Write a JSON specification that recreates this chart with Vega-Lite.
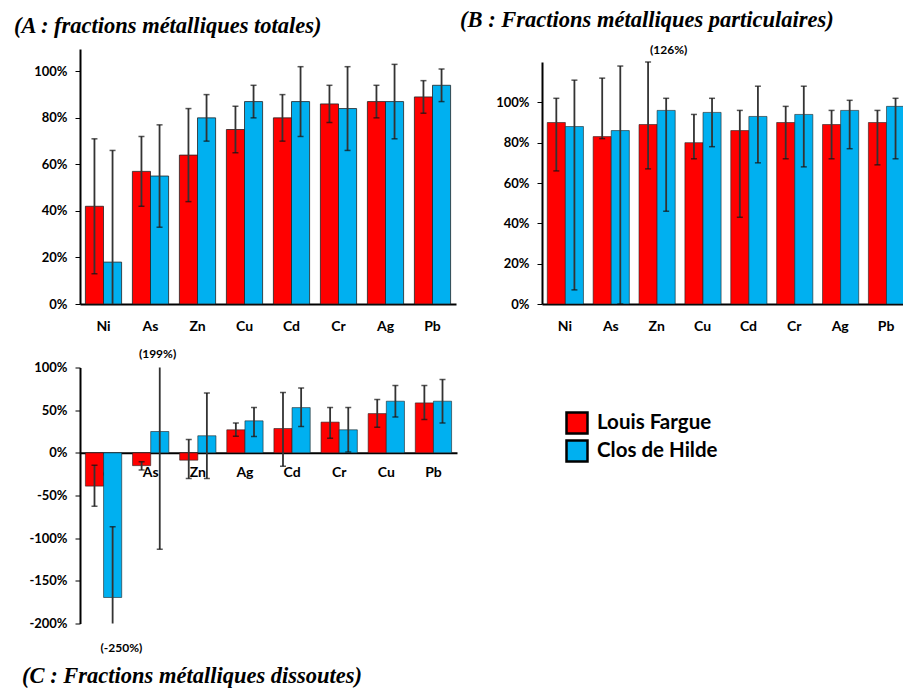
{
  "$schema": "https://vega.github.io/schema/vega-lite/v6.json",
  "background": "white",
  "padding": {"left": 14, "top": 9, "right": 0, "bottom": 0},
  "config": {
    "view": {"stroke": null},
    "axis": {"labelFont": "Lato", "labelFontWeight": "bold", "labelColor": "#000", "domainColor": "#000", "domainWidth": 2, "tickColor": "#000", "grid": false, "title": null},
    "title": {"font": "Liberation Serif", "fontStyle": "italic", "fontWeight": "bold", "fontSize": 22.5, "anchor": "start", "frame": "group", "color": "#000"}
  },
  "datasets": {
    "A": [
      {"el": "Ni", "site": "Louis Fargue", "v": 0.42, "lo": 0.13, "hi": 0.71},
      {"el": "Ni", "site": "Clos de Hilde", "v": 0.18, "lo": -0.29, "hi": 0.66},
      {"el": "As", "site": "Louis Fargue", "v": 0.57, "lo": 0.42, "hi": 0.72},
      {"el": "As", "site": "Clos de Hilde", "v": 0.55, "lo": 0.33, "hi": 0.77},
      {"el": "Zn", "site": "Louis Fargue", "v": 0.64, "lo": 0.44, "hi": 0.84},
      {"el": "Zn", "site": "Clos de Hilde", "v": 0.80, "lo": 0.70, "hi": 0.90},
      {"el": "Cu", "site": "Louis Fargue", "v": 0.75, "lo": 0.65, "hi": 0.85},
      {"el": "Cu", "site": "Clos de Hilde", "v": 0.87, "lo": 0.80, "hi": 0.94},
      {"el": "Cd", "site": "Louis Fargue", "v": 0.80, "lo": 0.70, "hi": 0.90},
      {"el": "Cd", "site": "Clos de Hilde", "v": 0.87, "lo": 0.72, "hi": 1.02},
      {"el": "Cr", "site": "Louis Fargue", "v": 0.86, "lo": 0.78, "hi": 0.94},
      {"el": "Cr", "site": "Clos de Hilde", "v": 0.84, "lo": 0.66, "hi": 1.02},
      {"el": "Ag", "site": "Louis Fargue", "v": 0.87, "lo": 0.80, "hi": 0.94},
      {"el": "Ag", "site": "Clos de Hilde", "v": 0.87, "lo": 0.71, "hi": 1.03},
      {"el": "Pb", "site": "Louis Fargue", "v": 0.89, "lo": 0.82, "hi": 0.96},
      {"el": "Pb", "site": "Clos de Hilde", "v": 0.94, "lo": 0.87, "hi": 1.01}
    ],
    "B": [
      {"el": "Ni", "site": "Louis Fargue", "v": 0.90, "lo": 0.66, "hi": 1.02},
      {"el": "Ni", "site": "Clos de Hilde", "v": 0.88, "lo": 0.07, "hi": 1.11},
      {"el": "As", "site": "Louis Fargue", "v": 0.83, "lo": 0.82, "hi": 1.12},
      {"el": "As", "site": "Clos de Hilde", "v": 0.86, "lo": 0.0, "hi": 1.18},
      {"el": "Zn", "site": "Louis Fargue", "v": 0.89, "lo": 0.67, "hi": 1.2},
      {"el": "Zn", "site": "Clos de Hilde", "v": 0.96, "lo": 0.46, "hi": 1.02},
      {"el": "Cu", "site": "Louis Fargue", "v": 0.80, "lo": 0.72, "hi": 0.94},
      {"el": "Cu", "site": "Clos de Hilde", "v": 0.95, "lo": 0.78, "hi": 1.02},
      {"el": "Cd", "site": "Louis Fargue", "v": 0.86, "lo": 0.43, "hi": 0.96},
      {"el": "Cd", "site": "Clos de Hilde", "v": 0.93, "lo": 0.70, "hi": 1.08},
      {"el": "Cr", "site": "Louis Fargue", "v": 0.90, "lo": 0.72, "hi": 0.98},
      {"el": "Cr", "site": "Clos de Hilde", "v": 0.94, "lo": 0.68, "hi": 1.08},
      {"el": "Ag", "site": "Louis Fargue", "v": 0.89, "lo": 0.72, "hi": 0.96},
      {"el": "Ag", "site": "Clos de Hilde", "v": 0.96, "lo": 0.77, "hi": 1.01},
      {"el": "Pb", "site": "Louis Fargue", "v": 0.90, "lo": 0.69, "hi": 0.96},
      {"el": "Pb", "site": "Clos de Hilde", "v": 0.98, "lo": 0.72, "hi": 1.02}
    ],
    "C": [
      {"el": "Ni", "site": "Louis Fargue", "v": -0.39, "lo": -0.625, "hi": -0.145},
      {"el": "Ni", "site": "Clos de Hilde", "v": -1.695, "lo": -2.5, "hi": -0.867},
      {"el": "As", "site": "Louis Fargue", "v": -0.15, "lo": -0.20, "hi": -0.105},
      {"el": "As", "site": "Clos de Hilde", "v": 0.25, "lo": -1.13, "hi": 1.99},
      {"el": "Zn", "site": "Louis Fargue", "v": -0.086, "lo": -0.30, "hi": 0.156},
      {"el": "Zn", "site": "Clos de Hilde", "v": 0.20, "lo": -0.30, "hi": 0.70},
      {"el": "Ag", "site": "Louis Fargue", "v": 0.27, "lo": 0.195, "hi": 0.35},
      {"el": "Ag", "site": "Clos de Hilde", "v": 0.375, "lo": 0.19, "hi": 0.53},
      {"el": "Cd", "site": "Louis Fargue", "v": 0.285, "lo": -0.156, "hi": 0.707},
      {"el": "Cd", "site": "Clos de Hilde", "v": 0.53, "lo": 0.31, "hi": 0.76},
      {"el": "Cr", "site": "Louis Fargue", "v": 0.36, "lo": 0.17, "hi": 0.53},
      {"el": "Cr", "site": "Clos de Hilde", "v": 0.27, "lo": 0.01, "hi": 0.53},
      {"el": "Cu", "site": "Louis Fargue", "v": 0.46, "lo": 0.30, "hi": 0.625},
      {"el": "Cu", "site": "Clos de Hilde", "v": 0.605, "lo": 0.42, "hi": 0.79},
      {"el": "Pb", "site": "Louis Fargue", "v": 0.585, "lo": 0.39, "hi": 0.79},
      {"el": "Pb", "site": "Clos de Hilde", "v": 0.605, "lo": 0.35, "hi": 0.86}
    ]
  },
  "resolve": {"scale": {"color": "independent"}, "legend": {"color": "independent"}},
  "spacing": 14.5,
  "vconcat": [
    {
      "resolve": {"scale": {"color": "independent"}, "legend": {"color": "independent"}},
      "spacing": 4,
      "hconcat": [
        {
          "width": 376, "height": 255,
          "title": {"text": "(A : fractions métalliques totales)", "dx": -66, "offset": 12},
          "data": {"name": "A"},
          "encoding": {
            "x": {"field": "el", "type": "nominal", "scale": {"domain": ["Ni","As","Zn","Cu","Cd","Cr","Ag","Pb"], "paddingInner": 0.23, "paddingOuter": 0.115},
                  "axis": {"labelAngle": 0, "ticks": false, "labelPadding": 15, "labelFontSize": 14}},
            "xOffset": {"field": "site", "type": "nominal", "scale": {"domain": ["Louis Fargue","Clos de Hilde"], "paddingInner": 0, "paddingOuter": 0}}
          },
          "layer": [
            {"mark": {"type": "bar", "stroke": "#222", "strokeWidth": 0.8},
             "encoding": {
               "y": {"field": "v", "type": "quantitative", "scale": {"domain": [0, 1.096], "nice": false},
                     "axis": {"values": [0,0.2,0.4,0.6,0.8,1], "format": ".0%", "labelFontSize": 13, "tickSize": 5, "labelPadding": 8}},
               "color": {"field": "site", "type": "nominal", "scale": {"domain": ["Louis Fargue","Clos de Hilde"], "range": ["#FF0000","#00B0F0"]}, "legend": null}}},
            {"mark": {"type": "rule", "clip": true, "color": "#333", "strokeWidth": 1.8},
             "encoding": {"y": {"field": "lo", "type": "quantitative"}, "y2": {"field": "hi"}}},
            {"mark": {"type": "tick", "clip": true, "color": "#111", "size": 6, "thickness": 1.5},
             "encoding": {"y": {"field": "lo", "type": "quantitative"}}},
            {"mark": {"type": "tick", "clip": true, "color": "#111", "size": 6, "thickness": 1.5},
             "encoding": {"y": {"field": "hi", "type": "quantitative"}}}
          ]
        },
        {
          "width": 367, "height": 255,
          "title": {"text": "(B : Fractions métalliques particulaires)", "dx": -82, "offset": 12},
          "encoding": {
            "x": {"field": "el", "type": "nominal", "scale": {"domain": ["Ni","As","Zn","Cu","Cd","Cr","Ag","Pb"], "paddingInner": 0.23, "paddingOuter": 0.115},
                  "axis": {"labelAngle": 0, "ticks": false, "labelPadding": 15, "labelFontSize": 14}}
          },
          "layer": [
            {
              "data": {"name": "B"},
              "encoding": {
                "xOffset": {"field": "site", "type": "nominal", "scale": {"domain": ["Louis Fargue","Clos de Hilde"], "paddingInner": 0, "paddingOuter": 0}}
              },
              "layer": [
                {"mark": {"type": "bar", "stroke": "#222", "strokeWidth": 0.6},
                 "encoding": {
                   "y": {"field": "v", "type": "quantitative", "scale": {"domain": [0, 1.2], "nice": false, "range": [255, 13]},
                         "axis": {"values": [0,0.2,0.4,0.6,0.8,1], "format": ".0%", "labelFontSize": 13, "tickSize": 5, "labelPadding": 8}},
                   "color": {"field": "site", "type": "nominal", "scale": {"domain": ["Louis Fargue","Clos de Hilde"], "range": ["#FF0000","#00B0F0"]}, "legend": null}}},
                {"mark": {"type": "rule", "clip": true, "color": "#333", "strokeWidth": 1.8},
                 "encoding": {"y": {"field": "lo", "type": "quantitative"}, "y2": {"field": "hi"}}},
                {"mark": {"type": "tick", "clip": true, "color": "#111", "size": 6, "thickness": 1.5},
                 "encoding": {"y": {"field": "lo", "type": "quantitative"}}},
                {"mark": {"type": "tick", "clip": true, "color": "#111", "size": 6, "thickness": 1.5},
                 "encoding": {"y": {"field": "hi", "type": "quantitative"}}}
              ]
            },
            {
              "data": {"values": [{"el": "Zn", "t": "(126%)", "y": 1.26}]},
              "mark": {"type": "text", "dx": 12, "font": "Lato", "fontWeight": "bold", "fontSize": 12, "color": "#000"},
              "encoding": {"y": {"field": "y", "type": "quantitative"}, "text": {"field": "t"}}
            }
          ]
        }
      ]
    },
    {
      "width": 377, "height": 256,
      "title": {"text": "(C : Fractions métalliques dissoutes)", "orient": "bottom", "dx": -58, "offset": 11},
      "encoding": {
        "x": {"field": "el", "type": "nominal", "scale": {"domain": ["Ni","As","Zn","Ag","Cd","Cr","Cu","Pb"], "paddingInner": 0.23, "paddingOuter": 0.115},
              "axis": {"labelAngle": 0, "ticks": false, "labelPadding": 13, "labelFontSize": 14, "offset": -170.67}}
      },
      "layer": [
        {
          "data": {"name": "C"},
          "encoding": {
            "xOffset": {"field": "site", "type": "nominal", "scale": {"domain": ["Louis Fargue","Clos de Hilde"], "paddingInner": 0, "paddingOuter": 0}}
          },
          "layer": [
            {"mark": {"type": "bar", "stroke": "#222", "strokeWidth": 0.6},
             "encoding": {
               "y": {"field": "v", "type": "quantitative", "scale": {"domain": [-2, 1], "nice": false},
                     "axis": {"values": [-2,-1.5,-1,-0.5,0,0.5,1], "labelExpr": "replace(format(datum.value, '.0%'), '−', '-')", "labelFontSize": 13, "tickSize": 5, "labelPadding": 8}},
               "color": {"field": "site", "type": "nominal", "scale": {"domain": ["Louis Fargue","Clos de Hilde"], "range": ["#FF0000","#00B0F0"]},
                         "legend": {"orient": "none", "legendX": 485, "legendY": 43.5, "title": null, "symbolType": "square", "symbolSize": 441, "symbolStrokeColor": "#000", "symbolStrokeWidth": 2.5, "labelFont": "Lato", "labelFontWeight": "bold", "labelFontSize": 20.5, "labelColor": "#000", "rowPadding": -4, "labelOffset": 8}}}},
            {"mark": {"type": "rule", "clip": true, "color": "#333", "strokeWidth": 1.8},
             "encoding": {"y": {"field": "lo", "type": "quantitative"}, "y2": {"field": "hi"}}},
            {"mark": {"type": "tick", "clip": true, "color": "#111", "size": 6, "thickness": 1.5},
             "encoding": {"y": {"field": "lo", "type": "quantitative"}}},
            {"mark": {"type": "tick", "clip": true, "color": "#111", "size": 6, "thickness": 1.5},
             "encoding": {"y": {"field": "hi", "type": "quantitative"}}}
          ]
        },
        {
          "data": {"values": [{"el": "As", "t": "(199%)", "y": 1.16, "d": 25}, {"el": "Ni", "t": "(-250%)", "y": -2.29, "d": 36}]},
          "mark": {"type": "text", "font": "Lato", "fontWeight": "bold", "fontSize": 12, "color": "#000"},
          "encoding": {"y": {"field": "y", "type": "quantitative"}, "text": {"field": "t"}, "xOffset": {"field": "d", "type": "quantitative", "scale": {"domain": [0, 1], "range": [0, 1]}}}
        }
      ]
    }
  ]
}
